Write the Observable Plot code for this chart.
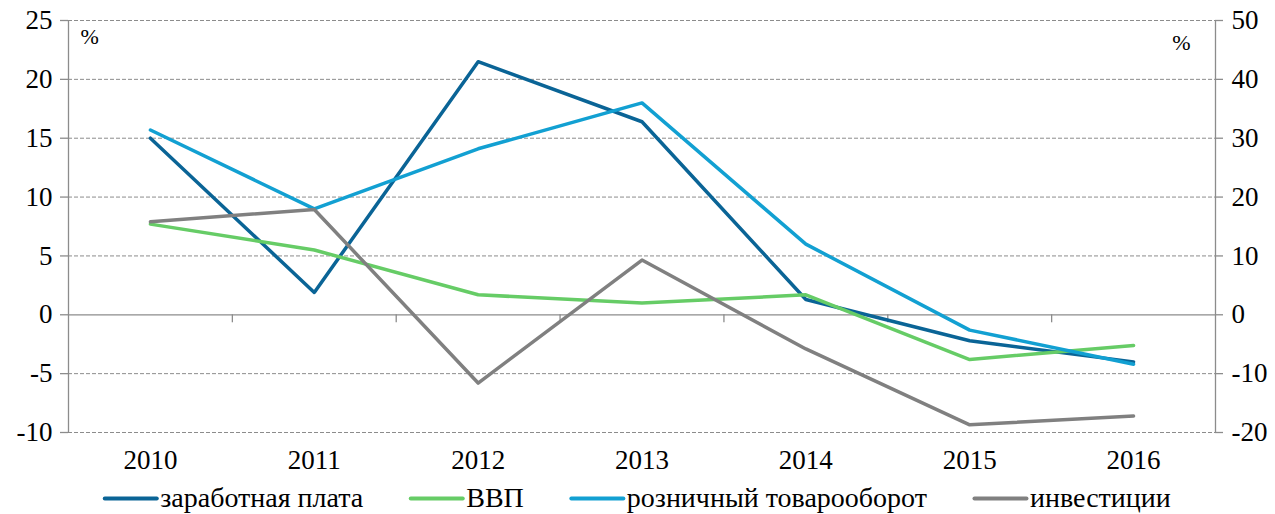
<!DOCTYPE html>
<html>
<head>
<meta charset="utf-8">
<script src="https://cdn.jsdelivr.net/npm/d3@7"></script>
<script src="https://cdn.jsdelivr.net/npm/@observablehq/plot@0.6"></script>
<style>
  body { margin: 0; background: #fff; overflow: hidden; }
</style>
</head>
<body>
<div id="chart"></div>
<div id="legend"></div>
<script>
const years = [2010, 2011, 2012, 2013, 2014, 2015, 2016]
const wages = [15.0, 1.9, 21.5, 16.4, 1.3, -2.2, -4.0]
const gdp = [7.7, 5.5, 1.7, 1.0, 1.7, -3.8, -2.6]
const retail = [15.7, 9.0, 14.1, 18.0, 6.0, -1.3, -4.2]
// инвестиции — на правой оси
const invest = [15.8, 17.9, -11.6, 9.3, -5.8, -18.7, -17.2]

const leftTicks = [-10, -5, 0, 5, 10, 15, 20, 25]
const names = ['заработная плата', 'ВВП', 'розничный товарооборот', 'инвестиции']
const colors = ['#0A6496', '#66CC66', '#12A0D2', '#808080']

// right axis is twice the left one
const ratio = 2
const font = 'Liberation Serif'
const grey = '#8c8c8c'

function draw() {
  let rows = []
  years.forEach((y, i) => {
    rows.push({year: y, v: wages[i], s: names[0]})
    rows.push({year: y, v: gdp[i], s: names[1]})
    rows.push({year: y, v: retail[i], s: names[2]})
    rows.push({year: y, v: invest[i] / ratio, s: names[3]})
  })
  const bounds = years.slice(0, -1).map(y => y + 0.5)
  const x0 = 2009.5, x1 = 2016.5

  const chart = Plot.plot({
    width: 1275,
    height: 482,
    marginLeft: 68,
    marginRight: 60,
    marginTop: 20,
    marginBottom: 50,
    style: {fontFamily: font, fontSize: '27px', color: '#000'},
    x: {domain: [x0, x1], axis: null},
    y: {domain: [-10, 25], axis: null},
    color: {domain: names, range: colors},
    marks: [
      Plot.ruleY(leftTicks.filter(d => d != 0), {stroke: grey, strokeDasharray: '4,2', strokeWidth: 1}),
      Plot.ruleY([0], {stroke: grey, strokeWidth: 1.3}),
      // tick marks
      Plot.ruleY(leftTicks, {x1: x0, x2: x0, insetLeft: -8, stroke: grey, strokeWidth: 1.3}),
      Plot.ruleY(leftTicks, {x1: x1, x2: x1, insetRight: -8, stroke: grey, strokeWidth: 1.3}),
      Plot.ruleX(bounds, {y1: 0, y2: 0, insetBottom: -8, stroke: grey, strokeWidth: 1.3}),
      Plot.ruleX([x0, x1], {stroke: grey, strokeWidth: 1.3}),
      // tick labels
      Plot.text(leftTicks, {y: d => d, text: d => String(d), frameAnchor: 'left', textAnchor: 'end', dx: -16}),
      Plot.text(leftTicks, {y: d => d, text: d => String(d * ratio), frameAnchor: 'right', textAnchor: 'start', dx: 16}),
      Plot.text(years, {x: d => d, text: d => String(d), frameAnchor: 'bottom', lineAnchor: 'top', dy: 17}),
      Plot.text(['%'], {frameAnchor: 'top-left', textAnchor: 'start', lineAnchor: 'top', dx: 12, dy: 8, fontSize: 22}),
      Plot.text(['%'], {frameAnchor: 'top-right', textAnchor: 'end', lineAnchor: 'top', dx: -25, dy: 14, fontSize: 22}),
      Plot.line(rows, {x: 'year', y: 'v', z: 's', stroke: 's', strokeWidth: 3.5})
    ]
  })
  d3.select('#chart').append(() => chart)

  // legend: item widths from the measured label widths
  const ctx = document.createElement('canvas').getContext('2d')
  ctx.font = '28px "Liberation Serif"'
  const sw = 52, gap = 48, pad = 3
  const widths = names.map(n => sw + pad + ctx.measureText(n).width)
  let pos = (1275 - d3.sum(widths) - gap * (names.length - 1)) / 2
  const items = names.map((n, i) => {
    const it = {name: n, a: pos, b: pos + sw, t: pos + sw + pad}
    pos += widths[i] + gap
    return it
  })
  const legend = Plot.plot({
    width: 1275,
    height: 32,
    margin: 0,
    style: {fontFamily: font, fontSize: '28px', color: '#000'},
    x: {domain: [0, 1275], axis: null},
    y: {domain: [-1, 1], axis: null},
    color: {domain: names, range: colors},
    marks: [
      Plot.ruleY(items, {y: 0, x1: 'a', x2: 'b', stroke: 'name', strokeWidth: 4, strokeLinecap: 'round'}),
      Plot.text(items, {x: 't', y: 0, text: 'name', textAnchor: 'start'})
    ]
  })
  d3.select('#legend').append(() => legend)
}

Promise.all([
  document.fonts.load('27px "Liberation Serif"', 'заработная 2010'),
  document.fonts.load('22px "Liberation Serif"', '%')
]).then(draw, draw)
</script>
</body>
</html>
